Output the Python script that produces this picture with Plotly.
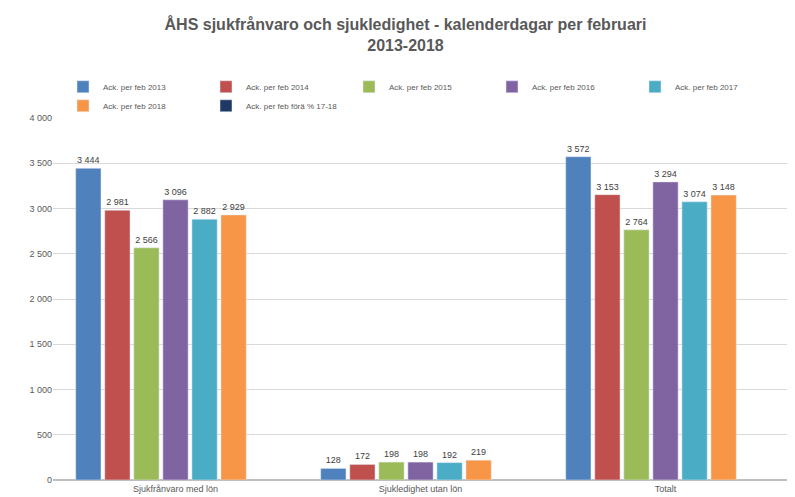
import plotly.graph_objects as go

categories = ["Sjukfrånvaro med lön", "Sjukledighet utan lön", "Totalt"]
series_names = ["Ack. per feb 2013", "Ack. per feb 2014", "Ack. per feb 2015", "Ack. per feb 2016",
                "Ack. per feb 2017", "Ack. per feb 2018", "Ack. per feb förä % 17-18"]
v2013 = [3444, 128, 3572]
v2014 = [2981, 172, 3153]
v2015 = [2566, 198, 2764]
v2016 = [3096, 198, 3294]
v2017 = [2882, 192, 3074]
v2018 = [2929, 219, 3148]
vchg = [None, None, None]
colors = ["#4F81BD", "#C0504D", "#9BBB59", "#8064A2", "#4BACC6", "#F79646", "#1F3864"]

fig = go.Figure()
for name, vals, c in zip(series_names, [v2013, v2014, v2015, v2016, v2017, v2018, vchg], colors):
    fig.add_trace(go.Bar(
        x=categories, y=vals, name=name, marker_color=c,
        text=[("" if v is None else f"{v:,}".replace(",", " ")) for v in vals],
        textposition="outside", textfont=dict(size=9, color="#404040"),
        cliponaxis=False,
    ))

fig.update_layout(
    width=795, height=497,
    paper_bgcolor="white", plot_bgcolor="white",
    font=dict(family="Liberation Sans, Arial", color="#595959"),
    title=dict(text="<b>ÅHS sjukfrånvaro och sjukledighet - kalenderdagar per februari<br>2013-2018</b>",
               x=0.5, xanchor="center", y=0.955, yanchor="top",
               font=dict(size=16, color="#595959")),
    legend=dict(orientation="h", x=0.5, xanchor="center", y=1.06, yanchor="middle",
                font=dict(size=8, color="#595959"), traceorder="normal",
                entrywidth=98, entrywidthmode="pixels", itemwidth=30),
    barmode="group", bargap=0.17, bargroupgap=0.13,
    separators=", ",
    margin=dict(l=45, r=15, t=110, b=25),
    showlegend=True,
)
fig.update_yaxes(range=[0, 4000], dtick=500, tickformat=",d", gridcolor="#D9D9D9",
                 tickfont=dict(size=9, color="#595959"), zeroline=True, zerolinecolor="#BFBFBF")
fig.update_xaxes(tickfont=dict(size=9, color="#595959"), showline=True, linecolor="#BFBFBF")
fig.write_html("out.html")
